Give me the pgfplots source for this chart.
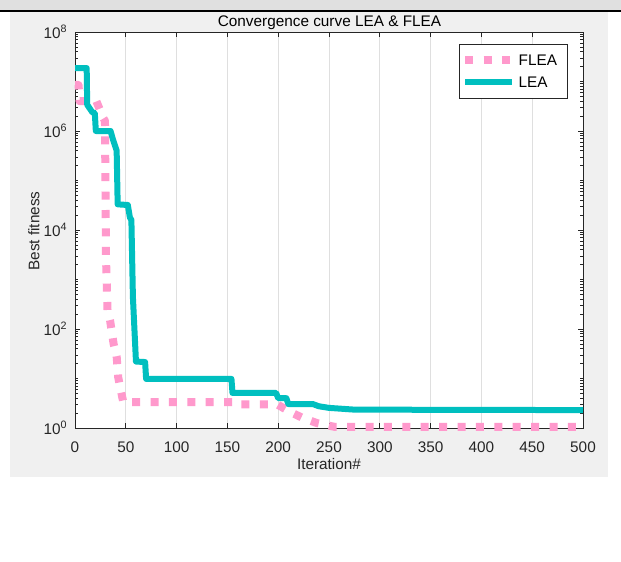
\documentclass[border=0pt]{standalone}
\usepackage{fontspec}
\setmainfont{Liberation Sans}
\usepackage{pgfplots}
\pgfplotsset{compat=1.18}
\definecolor{lea}{RGB}{0,191,191}
\definecolor{flea}{RGB}{255,153,204}
\definecolor{figbg}{RGB}{240,240,240}
\definecolor{axcol}{RGB}{38,38,38}
\definecolor{gridcol}{RGB}{223,223,223}
\begin{document}
\begin{tikzpicture}[font=\fontsize{11.5}{13.8}\selectfont]
\path[use as bounding box] (0,0) rectangle (465.75pt,420.75pt);
\fill[figbg] (7.5pt,63pt) rectangle (456pt,411.4pt);
\fill[black!12] (0,413.25pt) rectangle (465.75pt,420.75pt);
\draw[black, line width=1.9pt] (0,412.35pt) -- (465.75pt,412.35pt);
\begin{axis}[
  at={(56.25pt,99.75pt)}, anchor=south west,
  scale only axis, width=381pt, height=297pt,
  ymode=log, xmin=0, xmax=500, ymin=1, ymax=1e8,
  clip=false,
  axis background/.style={fill=white},
  axis line style={axcol, line width=0.6pt},
  tick align=inside,
  major tick length=3.75pt, minor tick length=2.2pt,
  every tick/.style={axcol, line width=0.5pt},
  xtick={0,50,...,500},
  xticklabel style={anchor=center, yshift=-14.6pt, text=axcol, /pgf/number format/assume math mode=true},
  ytick={1,1e2,1e4,1e6,1e8},
  yticklabels={10\textsuperscript{0},10\textsuperscript{2},10\textsuperscript{4},10\textsuperscript{6},10\textsuperscript{8}},
  yticklabel style={text=axcol, xshift=-2.2pt},
  minor ytick={2,3,4,5,6,7,8,9,10,20,30,40,50,60,70,80,90,200,300,400,500,600,700,800,900,1e3,2e3,3e3,4e3,5e3,6e3,7e3,8e3,9e3,2e4,3e4,4e4,5e4,6e4,7e4,8e4,9e4,1e5,2e5,3e5,4e5,5e5,6e5,7e5,8e5,9e5,2e6,3e6,4e6,5e6,6e6,7e6,8e6,9e6,1e7,2e7,3e7,4e7,5e7,6e7,7e7,8e7,9e7},
  xmajorgrids=true,
  major grid style={gridcol, line width=0.5pt},
  title={Convergence curve LEA \& FLEA},
  title style={at={(axis description cs:0.501,1.029)}, anchor=center, yshift=-7.5pt, text=black},
  xlabel={Iteration\#},
  xlabel style={at={(axis description cs:0.5,-0.0909)}, anchor=center, text=axcol},
  ylabel={Best fitness},
  ylabel style={at={(axis description cs:-0.0807,0.4975)}, anchor=center, rotate=0, text=axcol},
  legend style={at={(0.9705,0.9697)}, anchor=north east, draw=axcol, line width=0.5pt, fill=white,
    inner xsep=1.5pt, inner ysep=5pt, row sep=2.5pt, nodes={inner xsep=2pt, inner ysep=2pt, text height=9pt, text depth=1pt, text=black}},
  legend cell align=left,
  legend image code/.code={\draw[#1] (0pt,0pt) -- (35pt,0pt);},
]
\addplot[flea, line width=6pt, dash pattern=on 6pt off 7.8pt, line cap=butt, line join=round]
coordinates {(0,8.5e6) (3.5,8.5e6) (4.5,4.0e6) (21,4.0e6) (28,1.8e6) (29.5,1.6e6) (30.5,2.8e3) (32,2.4e2) (34.5,1.5e2) (38,5e1) (41,2.8e1) (42.5,1.07e1) (45,5.9) (47.5,3.35) (155,3.35) (157,3.0) (199,3.0) (212,2.1) (224,1.6) (238,1.26) (256,1.05) (500,1.05)};
\addplot[lea, line width=4.5pt, line join=round]
coordinates {(0,1.87e7) (11.5,1.87e7) (12,3.4e6) (17,2.4e6) (19.5,2.3e6) (20.5,1.0e6) (35,1.0e6) (37.5,6.6e5) (41,4e5) (42,3.3e4) (52,3.2e4) (54,1.8e4) (55.5,1.6e4) (57,4.4e2) (60,2.2e1) (69,2.15e1) (70,9.8) (154,9.8) (155,5.1) (198,5.1) (200,4.0) (208,4.0) (210,3.05) (234,3.05) (240,2.75) (250,2.55) (275,2.35) (500,2.3)};
\legend{FLEA\hspace*{4.5pt},LEA}
\end{axis}
\end{tikzpicture}
\end{document}
